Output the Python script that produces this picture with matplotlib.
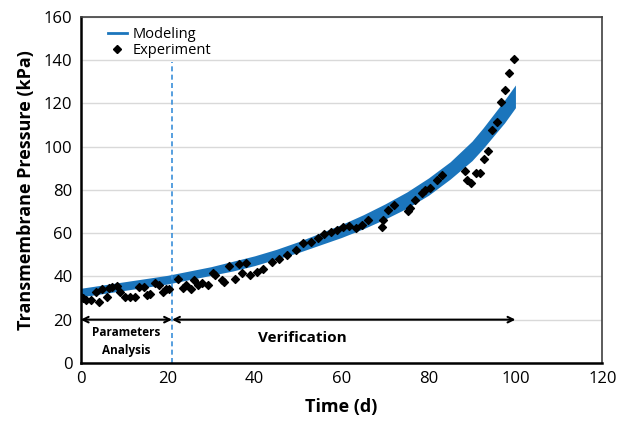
import matplotlib.pyplot as plt
from matplotlib.lines import Line2D

plt.rcParams['font.family'] = ['Open Sans', 'DejaVu Sans']

# modeling band (lower / upper envelope), days
model_days = [0, 5, 10, 15, 20, 25, 30, 35, 40, 45, 50, 55, 60, 65, 70, 75, 80, 85, 90, 92.5, 95, 97.5, 100]
model_low = [30.5, 32, 33.5, 35, 36.5, 38.5, 40.5, 42.5, 45, 48, 51, 54.5, 58, 62, 66.5, 71.5, 77.5, 85, 93.5, 99, 105, 111, 118]
model_high = [34.5, 36, 37.5, 39, 40.5, 42.5, 44.5, 47, 49.5, 52.5, 56, 60, 64, 68.5, 73.5, 79, 85.5, 93, 102.5, 108.5, 115, 121.5, 128.5]

# measured transmembrane pressure
exp_days = [0, 0.5, 1.2, 2.3, 3.4, 4.3, 5, 6, 6.6, 7.3, 8.4, 9, 10.2, 11.3, 12.5, 13.4,
            14.5, 15.2, 15.9, 17, 17.9, 19, 19.7, 20.4, 22.4, 23.6, 24.3, 25.4, 26, 27,
            28, 29.2, 30.4, 31, 32.6, 33, 34, 35.4, 36.5, 37, 38, 39, 40.5, 42, 44,
            45.5, 47.5, 49.5, 51.2, 53, 54.5, 56, 57.6, 59, 60.3, 61.7, 63.3, 64.8, 66,
            69.4, 69.6, 70.8, 72, 75.3, 75.7, 76.9, 78.5, 79.2, 80.3, 81.9, 83, 88.4,
            88.9, 89.8, 91, 91.8, 92.7, 93.7, 94.7, 95.7, 96.7, 97.7, 98.5, 99.6]
exp_tmp = [30.6, 30, 29, 29, 33, 28, 34, 30.5, 34.6, 35, 35.6, 33, 30.5, 30.5, 30.5, 35,
           35, 31.4, 32, 37, 36, 33, 34, 34, 39, 34.6, 36, 34, 38.4, 36,
           37, 36, 41.6, 40.7, 38.4, 37.5, 45, 39, 45.5, 41.5, 46, 40.5, 42, 43.3, 46.7,
           48, 50, 52, 55.4, 56, 57.7, 59.6, 60.5, 61.5, 63, 63.5, 62.5, 63.8, 66,
           63, 66, 70.7, 73, 70, 71.6, 75.3, 78.5, 80, 81, 84.6, 87, 88.5,
           84.6, 83, 88, 88, 94.5, 98.2, 107.7, 111.2, 120.6, 126, 134, 140.5]

split_day = 21
end_day = 100

fig, ax = plt.subplots(figsize=(6.21, 4.21), dpi=100)
fig.subplots_adjust(left=0.13, right=0.97, top=0.96, bottom=0.138)

blue = '#1b75bc'
ax.fill_between(model_days, model_low, model_high, color=blue, lw=0, zorder=2)
ax.scatter(exp_days, exp_tmp, marker='D', s=16, color='black', zorder=3)

ax.plot([split_day, split_day], [0, 139], color='#3a8fd9', ls=(0, (3, 2)), lw=1.2, zorder=2)

# phase arrows
ax.annotate('', xy=(0, 20), xytext=(split_day, 20),
            arrowprops=dict(arrowstyle='<->', color='black', lw=1.5, shrinkA=0, shrinkB=0), zorder=4)
ax.annotate('', xy=(split_day, 20), xytext=(end_day, 20),
            arrowprops=dict(arrowstyle='<->', color='black', lw=1.5, shrinkA=0, shrinkB=0), zorder=4)
ax.text(10.5, 10, 'Parameters\nAnalysis', ha='center', va='center', fontsize=8.5,
        fontweight='bold', linespacing=1.5)
ax.text(51, 11.5, 'Verification', ha='center', va='center', fontsize=11, fontweight='bold')

ax.set_xlim(0, 120)
ax.set_ylim(0, 160)
ax.set_xticks(range(0, 121, 20))
ax.set_yticks(range(0, 161, 20))
ax.tick_params(length=0, labelsize=12, pad=6)
ax.yaxis.grid(True, color='#d9d9d9', lw=1)
ax.set_axisbelow(True)
for s in ax.spines.values():
    s.set_color('#404040')
    s.set_linewidth(1.2)
ax.spines['left'].set_color('black')
ax.spines['bottom'].set_color('black')
ax.spines['left'].set_linewidth(1.8)
ax.spines['bottom'].set_linewidth(1.8)

ax.set_xlabel('Time (d)', fontsize=13, fontweight='bold', labelpad=8)
ax.set_ylabel('Transmembrane Pressure (kPa)', fontsize=13, fontweight='bold', labelpad=6)

handles = [Line2D([], [], color=blue, lw=2),
           Line2D([], [], marker='D', ls='none', color='black', ms=4)]
ax.legend(handles, ['Modeling', 'Experiment'], loc='upper left', bbox_to_anchor=(0.035, 0.995),
          frameon=False, fontsize=10.5, handlelength=1.3, handletextpad=0.4,
          labelspacing=0.05, borderaxespad=0.2)

fig.savefig('out.png')
